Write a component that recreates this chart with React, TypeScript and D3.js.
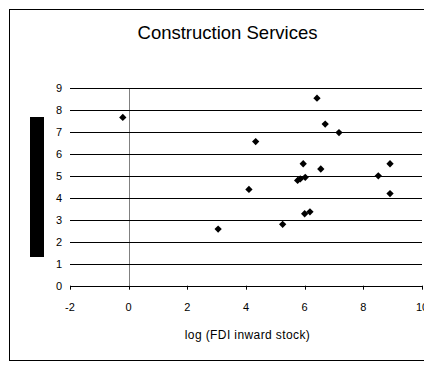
import React from "react";
import * as d3 from "d3";

const xValues = [-0.2, 3.05, 4.1, 4.33, 5.25, 5.76, 5.85, 5.95, 6.0, 6.02, 6.18, 6.42, 6.55, 6.7, 7.17, 8.51, 8.91, 8.91];
const yValues = [7.67, 2.58, 4.39, 6.57, 2.8, 4.8, 4.87, 5.56, 3.28, 4.94, 3.37, 8.55, 5.32, 7.37, 6.98, 5.01, 5.56, 4.2];
const xTicks = [-2, 0, 2, 4, 6, 8, 10];
const yTicks = [0, 1, 2, 3, 4, 5, 6, 7, 8, 9];
const title = "Construction Services";
const xLabel = "log (FDI inward stock)";

export default function App() {
  const W = 424, H = 365;
  const x = d3.scaleLinear().domain([-2, 10]).range([70, 422]);
  const y = d3.scaleLinear().domain([0, 9]).range([285.7, 88.3]);
  const font = "'Liberation Sans', Arial, sans-serif";
  const diamond = d3.symbol().type(d3.symbolDiamond2).size(34)();
  const px = (v: number) => Math.round(v) + 0.5;
  return (
    <svg width={W} height={H} style={{ position: "absolute", left: 0, top: 0, background: "#fff" }}>
      <rect x={9.5} y={9.5} width={430} height={351} fill="none" stroke="#000" strokeWidth={1} />
      <text x={227.5} y={38.5} textAnchor="middle" fontFamily={font} fontSize={18.5} fill="#000">{title}</text>
      <rect x={30} y={117} width={14} height={140} fill="#000" />
      {yTicks.filter(t => t > 0).map(t => (
        <line key={"g" + t} x1={x(-2)} x2={x(10)} y1={px(y(t))} y2={px(y(t))} stroke="#000" strokeWidth={1} />
      ))}
      <line x1={px(x(0))} x2={px(x(0))} y1={y(9)} y2={y(0)} stroke="#808080" strokeWidth={1} />
      {yTicks.map(t => (
        <line key={"yt" + t} x1={x(0) - 2} x2={x(0) + 2} y1={px(y(t))} y2={px(y(t))} stroke="#000" strokeWidth={1} />
      ))}
      <line x1={x(-2)} x2={x(10)} y1={px(y(0))} y2={px(y(0))} stroke="#000" strokeWidth={1} />
      {xTicks.map(t => (
        <line key={"xt" + t} x1={px(x(t))} x2={px(x(t))} y1={y(0)} y2={y(0) + 4} stroke="#000" strokeWidth={1} />
      ))}
      {yTicks.map(t => (
        <text key={"yl" + t} x={62} y={y(t) + 4} textAnchor="end" fontFamily={font} fontSize={11} fill="#000">{t}</text>
      ))}
      {xTicks.map(t => (
        <text key={"xl" + t} x={x(t)} y={310.5} textAnchor="middle" fontFamily={font} fontSize={11} fill="#000">{t}</text>
      ))}
      <text x={247.5} y={339} textAnchor="middle" fontFamily={font} fontSize={12} letterSpacing={0.4} fill="#000">{xLabel}</text>
      {xValues.map((v, i) => (
        <path key={"p" + i} d={diamond as string} transform={`translate(${x(v)},${y(yValues[i])})`} fill="#000" />
      ))}
    </svg>
  );
}
